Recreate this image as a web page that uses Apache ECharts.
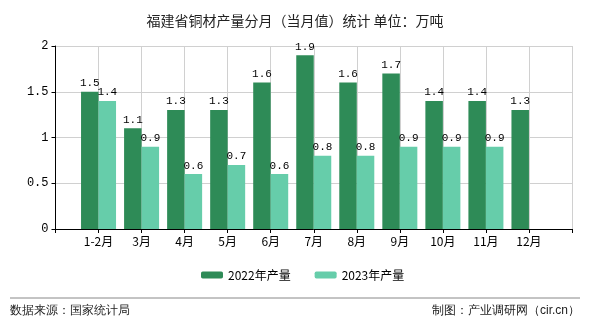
<!DOCTYPE html>
<html><head><meta charset="utf-8">
<script src="https://cdn.jsdelivr.net/npm/echarts@6/dist/echarts.min.js"></script>
<style>html,body{margin:0;padding:0;background:#fff}#c{width:590px;height:330px}</style>
</head><body><div id="c"></div>
<script>
const categories = ['', '1-2月', '3月', '4月', '5月', '6月', '7月', '8月', '9月', '10月', '11月', '12月', ''];
const prod2022 = [null, 1.5, 1.1, 1.3, 1.3, 1.6, 1.9, 1.6, 1.7, 1.4, 1.4, 1.3, null];
const prod2023 = [null, 1.4, 0.9, 0.6, 0.7, 0.6, 0.8, 0.8, 0.9, 0.9, 0.9, null, null];
const seriesNames = ['2022年产量', '2023年产量'];
const yTicks = [0, 0.5, 1, 1.5, 2];

const chart = echarts.init(document.getElementById('c'));
const mono = 'Liberation Mono, DejaVu Sans Mono, monospace';
const lbl = {show: true, position: 'top', color: '#000', fontSize: 11, fontFamily: mono, distance: 3};
chart.setOption({
  animation: false,
  title: {text: '福建省铜材产量分月（当月值）统计 单位：万吨', left: 'center', top: 9,
    textStyle: {fontSize: 14, fontWeight: 'normal', color: '#222', fontFamily: 'Noto Sans CJK SC'}},
  legend: {bottom: 44, left: 196, itemWidth: 22, itemHeight: 7, itemGap: 24,
    textStyle: {fontSize: 12, color: '#000', fontFamily: 'Noto Sans CJK SC'}},
  grid: {left: 55.5, right: 18, top: 46, bottom: 101, containLabel: false},
  xAxis: {type: 'category', data: categories, boundaryGap: false,
    axisLine: {lineStyle: {color: '#000'}},
    axisTick: {show: true, length: 4, lineStyle: {color: '#000'}},
    axisLabel: {color: '#000', fontSize: 12, fontFamily: 'Noto Sans CJK SC', interval: 0, margin: 6},
    splitLine: {show: true, lineStyle: {color: '#d0d0d0'}}},
  yAxis: {type: 'value', min: yTicks[0], max: yTicks[yTicks.length - 1], interval: 0.5,
    axisLine: {show: true, lineStyle: {color: '#000'}},
    axisTick: {show: true, length: 4, lineStyle: {color: '#000'}},
    axisLabel: {color: '#000', fontSize: 12, fontFamily: mono, margin: 7},
    splitLine: {lineStyle: {color: '#d0d0d0'}}},
  series: [
    {name: seriesNames[0], type: 'bar', data: prod2022, barWidth: 17.5, barGap: '0%',
      itemStyle: {color: '#2E8B57'}, label: lbl},
    {name: seriesNames[1], type: 'bar', data: prod2023, barWidth: 17.5,
      itemStyle: {color: '#66CDAA'}, label: lbl}
  ],
  graphic: [
    {type: 'line', shape: {x1: 10, y1: 298, x2: 580, y2: 298}, style: {stroke: '#888', lineWidth: 1}},
    {type: 'text', left: 10, top: 305, style: {text: '数据来源：国家统计局', fontSize: 12, fill: '#222', font: '12px "Noto Sans CJK SC"'}},
    {type: 'text', right: 10, top: 305, style: {text: '制图：产业调研网（cir.cn）', fontSize: 12, fill: '#222', font: '12px "Noto Sans CJK SC"'}}
  ]
});
</script></body></html>
